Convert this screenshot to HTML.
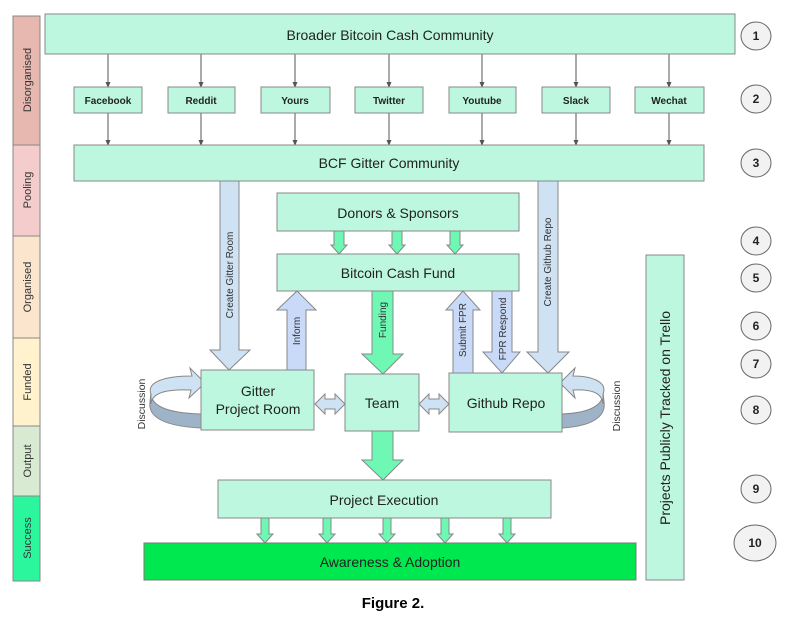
<!DOCTYPE html>
<html><head><meta charset="utf-8"><style>
html,body{margin:0;padding:0;background:#fff;}
svg{display:block;font-family:"Liberation Sans",Arial,sans-serif;}
</style></head><body>
<svg width="791" height="623" viewBox="0 0 791 623" xmlns="http://www.w3.org/2000/svg">
<defs>
<marker id="ah" markerWidth="6" markerHeight="6" refX="3" refY="3" orient="auto"><path d="M0,0.5 L6,3 L0,5.5z" fill="#555"/></marker>
</defs>
<g stroke="#888" stroke-width="1">
<!-- stage bars -->
<rect x="13" y="16" width="27" height="129" fill="#e6b8af"/>
<rect x="13" y="145" width="27" height="91" fill="#f4cccc"/>
<rect x="13" y="236" width="27" height="102" fill="#fce5cd"/>
<rect x="13" y="338" width="27" height="88" fill="#fff2cc"/>
<rect x="13" y="426" width="27" height="70" fill="#d9ead3"/>
<rect x="13" y="496" width="27" height="85" fill="#2bf59d"/>
</g>
<g font-size="11" fill="#333" text-anchor="middle">
<text transform="translate(31,80) rotate(-90)">Disorganised</text>
<text transform="translate(31,190) rotate(-90)">Pooling</text>
<text transform="translate(31,287) rotate(-90)">Organised</text>
<text transform="translate(31,382) rotate(-90)">Funded</text>
<text transform="translate(31,461) rotate(-90)">Output</text>
<text transform="translate(31,538) rotate(-90)">Success</text>
</g>

<!-- thin connectors -->
<g stroke="#555" stroke-width="1" marker-end="url(#ah)">
<line x1="108" y1="54" x2="108" y2="85"/><line x1="201" y1="54" x2="201" y2="85"/>
<line x1="295" y1="54" x2="295" y2="85"/><line x1="389" y1="54" x2="389" y2="85"/>
<line x1="482" y1="54" x2="482" y2="85"/><line x1="576" y1="54" x2="576" y2="85"/>
<line x1="669" y1="54" x2="669" y2="85"/>
<line x1="108" y1="113" x2="108" y2="143"/><line x1="201" y1="113" x2="201" y2="143"/>
<line x1="295" y1="113" x2="295" y2="143"/><line x1="389" y1="113" x2="389" y2="143"/>
<line x1="482" y1="113" x2="482" y2="143"/><line x1="576" y1="113" x2="576" y2="143"/>
<line x1="669" y1="113" x2="669" y2="143"/>
</g>

<g stroke="#888" stroke-width="1" fill="#bdf7e0">
<rect x="45" y="14" width="690" height="40"/>
<rect x="74" y="87" width="68" height="26"/><rect x="168" y="87" width="67" height="26"/>
<rect x="261" y="87" width="69" height="26"/><rect x="355" y="87" width="68" height="26"/>
<rect x="449" y="87" width="67" height="26"/><rect x="542" y="87" width="68" height="26"/>
<rect x="635" y="87" width="69" height="26"/>
<rect x="74" y="145" width="630" height="36"/>
<rect x="277" y="193" width="242" height="38"/>
<rect x="277" y="254" width="242" height="37"/>
<rect x="646" y="255" width="38" height="325"/>
</g>
<g fill="#222" text-anchor="middle">
<text x="390" y="40" font-size="14">Broader Bitcoin Cash Community</text>
<g font-size="10" font-weight="bold">
<text x="108" y="104">Facebook</text><text x="201" y="104">Reddit</text><text x="295" y="104">Yours</text>
<text x="389" y="104">Twitter</text><text x="482" y="104">Youtube</text><text x="576" y="104">Slack</text><text x="669" y="104">Wechat</text>
</g>
<text x="389" y="168" font-size="14">BCF Gitter Community</text>
<text x="398" y="218" font-size="14">Donors &amp; Sponsors</text>
<text x="398" y="278" font-size="14">Bitcoin Cash Fund</text>
<text transform="translate(670,418) rotate(-90)" font-size="14">Projects Publicly  Tracked on Trello</text>
</g>

<!-- small green arrows donors->fund -->
<g fill="#6ff7b4" stroke="#888" stroke-width="1">
<path d="M334,231 H344 V245 H347 L339,254 L331,245 H334Z"/>
<path d="M392,231 H402 V245 H405 L397,254 L389,245 H392Z"/>
<path d="M450,231 H460 V245 H463 L455,254 L447,245 H450Z"/>
</g>

<!-- big arrows -->
<g stroke="#888" stroke-width="1">
<path fill="#cfe2f3" d="M220,181 H239 V350 H250 L229,370 L210,350 H220Z"/>
<path fill="#c9daf8" d="M287,370 V310 H277 L297,291 L316,310 H306 V370Z"/>
<path fill="#6ff7b4" d="M372,291 H393 V354 H403 L383,374 L362,354 H372Z"/>
<path fill="#c9daf8" d="M453,373 V310 H446 L463,291 L480,310 H473 V373Z"/>
<path fill="#c9daf8" d="M492,291 H512 V352 H520 L502,373 L483,352 H492Z"/>
<path fill="#cfe2f3" d="M538,181 H558 V352 H569 L548,373 L527,352 H538Z"/>
<path fill="#6ff7b4" d="M372,431 H393 V460 H403 L383,480 L362,460 H372Z"/>
</g>
<g fill="#333" font-size="10" text-anchor="middle">
<text transform="translate(233,275) rotate(-90)">Create Gitter Room</text>
<text transform="translate(300,331) rotate(-90)">Inform</text>
<text transform="translate(386,320) rotate(-90)">Funding</text>
<text transform="translate(466,330) rotate(-90)">Submit FPR</text>
<text transform="translate(506,329) rotate(-90)">FPR Respond</text>
<text transform="translate(551,262) rotate(-90)">Create Github Repo</text>
</g>

<!-- discussion loops -->
<g stroke="#888" stroke-width="1">
<path fill="#9fb3c8" d="M201,428 C160,426 148,415 150,402 L151,392 C150,405 165,413 201,414Z"/>
<path fill="#cfe2f3" d="M151,394 C146,382 165,376 192,376 L190,368 L205,383 L189,398 L191,390 C168,389 152,392 151,404Z"/>
<path fill="#9fb3c8" d="M562,428 C595,426 606,415 604,402 L603,392 C604,405 590,413 562,414Z"/>
<path fill="#cfe2f3" d="M603,394 C608,382 592,376 573,376 L575,368 L560,383 L575,398 L573,390 C590,389 602,392 603,404Z"/>
</g>
<g fill="#333" font-size="10.5" text-anchor="middle">
<text transform="translate(145,404) rotate(-90)">Discussion</text>
<text transform="translate(620,406) rotate(-90)">Discussion</text>
</g>

<!-- double arrows -->
<g fill="#cfe2f3" stroke="#888" stroke-width="1">
<path d="M315,404 L325,394 V399 H335 V394 L345,404 L335,414 V409 H325 V414Z"/>
<path d="M419,404 L429,394 V399 H439 V394 L449,404 L439,414 V409 H429 V414Z"/>
</g>

<g stroke="#888" stroke-width="1" fill="#bdf7e0">
<rect x="201" y="370" width="113" height="60"/>
<rect x="345" y="374" width="74" height="57"/>
<rect x="449" y="373" width="113" height="59"/>
<rect x="218" y="480" width="333" height="38"/>
</g>
<g fill="#222" text-anchor="middle" font-size="14">
<text x="258" y="396">Gitter</text><text x="258" y="414">Project Room</text>
<text x="382" y="408">Team</text>
<text x="506" y="408">Github Repo</text>
<text x="384" y="505">Project Execution</text>
</g>

<g fill="#6ff7b4" stroke="#888" stroke-width="1">
<path d="M261,518 H269 V534 H273 L265,543 L257,534 H261Z"/>
<path d="M323,518 H331 V534 H335 L327,543 L319,534 H323Z"/>
<path d="M383,518 H391 V534 H395 L387,543 L379,534 H383Z"/>
<path d="M441,518 H449 V534 H453 L445,543 L437,534 H441Z"/>
<path d="M503,518 H511 V534 H515 L507,543 L499,534 H503Z"/>
</g>
<rect x="144" y="543" width="492" height="37" fill="#00e84f" stroke="#777"/>
<text x="390" y="567" font-size="14" fill="#222" text-anchor="middle">Awareness &amp; Adoption</text>

<!-- numbered circles -->
<g fill="#f2f2f2" stroke="#666" stroke-width="1">
<ellipse cx="756" cy="36" rx="15" ry="14"/><ellipse cx="756" cy="99" rx="15" ry="14"/>
<ellipse cx="756" cy="163" rx="15" ry="14"/><ellipse cx="756" cy="241" rx="15" ry="14"/>
<ellipse cx="756" cy="278" rx="15" ry="14"/><ellipse cx="756" cy="326" rx="15" ry="14"/>
<ellipse cx="756" cy="364" rx="15" ry="14"/><ellipse cx="756" cy="410" rx="15" ry="14"/>
<ellipse cx="756" cy="489" rx="15" ry="14"/><ellipse cx="755" cy="543" rx="21" ry="18"/>
</g>
<g fill="#222" font-size="12" font-weight="bold" text-anchor="middle">
<text x="756" y="40">1</text><text x="756" y="103">2</text><text x="756" y="167">3</text>
<text x="756" y="245">4</text><text x="756" y="282">5</text><text x="756" y="330">6</text>
<text x="756" y="368">7</text><text x="756" y="414">8</text><text x="756" y="493">9</text>
<text x="755" y="547">10</text>
</g>

<text x="393" y="608" font-size="15" font-weight="bold" fill="#000" text-anchor="middle">Figure 2.</text>
</svg>
</body></html>
